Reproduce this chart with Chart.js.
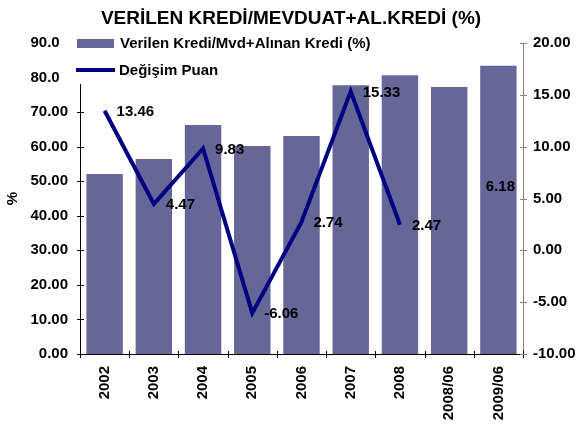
<!DOCTYPE html>
<html><head><meta charset="utf-8">
<script src="https://cdn.jsdelivr.net/npm/chart.js@4/dist/chart.umd.min.js"></script>
<style>html,body{margin:0;padding:0;background:#fff}#wrap{width:577px;height:430px}</style>
</head><body><div id="wrap"><canvas id="c" width="577" height="430"></canvas></div>
<script>
const categories = ['2002','2003','2004','2005','2006','2007','2008','2008/06','2009/06'];
const ratioValues = [52.1, 56.4, 66.3, 60.2, 63.1, 77.8, 80.7, 77.3, 83.4];
const changeValues = [13.46, 4.47, 9.83, -6.06, 2.74, 15.33, 2.47, null, 6.18];
const leftTicks = [0, 10, 20, 30, 40, 50, 60, 70, 80, 90];
const rightTicks = [-10, -5, 0, 5, 10, 15, 20];
const chartTitle = 'VERİLEN KREDİ/MEVDUAT+AL.KREDİ (%)';
const barLabel = 'Verilen Kredi/Mvd+Alınan Kredi (%)';
const lineLabel = 'Değişim Puan';
const leftAxisTitle = '%';

const FONT = '"Liberation Sans", Arial, sans-serif';
const BAR_COLOR = '#666699';
const LINE_COLOR = '#000080';

const overlay = {
  id: 'overlay',
  afterDraw(chart) {
    const ctx = chart.ctx;
    const area = chart.chartArea;
    const yl = chart.scales.y, yr = chart.scales.y1;
    ctx.save();
    // crossing tick marks
    ctx.lineWidth = 1;
    ctx.strokeStyle = '#000';
    ctx.beginPath();
    leftTicks.forEach(v => { const p = Math.round(yl.getPixelForValue(v)) + 0.5; ctx.moveTo(area.left - 3, p); ctx.lineTo(area.left + 4, p); });
    const step = (area.right - area.left) / categories.length;
    for (let i = 0; i <= categories.length; i++) {
      const p = Math.round(area.left + i * step) + 0.5;
      ctx.moveTo(p, area.bottom - 3); ctx.lineTo(p, area.bottom + 4);
    }
    ctx.stroke();
    ctx.strokeStyle = '#808080';
    ctx.beginPath();
    rightTicks.forEach(v => { const p = Math.round(yr.getPixelForValue(v)) + 0.5; ctx.moveTo(area.right - 3, p); ctx.lineTo(area.right + 4, p); });
    ctx.stroke();

    // data labels
    const meta = chart.getDatasetMeta(1);
    ctx.font = 'bold 15px ' + FONT;
    ctx.fillStyle = '#000';
    ctx.textBaseline = 'middle';
    ctx.textAlign = 'left';
    meta.data.forEach((pt, i) => {
      const v = changeValues[i];
      if (v === null || v === undefined) return;
      const txt = v.toFixed(2);
      const w = ctx.measureText(txt).width;
      let x = pt.x + 12;
      if (x + w > area.right - 8) x = area.right - 8 - w;
      ctx.fillText(txt, x, pt.y + 1);
    });

    // legend (overlapping top-left of plot)
    ctx.fillStyle = '#fff';
    ctx.fillRect(60, 30, 321, 54);
    ctx.fillStyle = BAR_COLOR;
    ctx.fillRect(77, 39, 37, 9);
    ctx.strokeStyle = LINE_COLOR;
    ctx.lineWidth = 4;
    ctx.beginPath(); ctx.moveTo(76, 70); ctx.lineTo(115, 70); ctx.stroke();
    ctx.fillStyle = '#000';
    ctx.font = 'bold 15px ' + FONT;
    ctx.fillText(barLabel, 120, 44);
    ctx.fillText(lineLabel, 119, 71);

    // title
    ctx.font = 'bold 19px ' + FONT;
    ctx.textAlign = 'center';
    ctx.textBaseline = 'alphabetic';
    ctx.fillText(chartTitle, 291, 24);
    ctx.restore();
  }
};

new Chart(document.getElementById('c'), {
  data: {
    labels: categories,
    datasets: [
      { type: 'bar', label: barLabel, data: ratioValues, backgroundColor: BAR_COLOR, borderWidth: 0,
        barPercentage: 0.74, categoryPercentage: 1, yAxisID: 'y', order: 2 },
      { type: 'line', label: lineLabel, data: changeValues, borderColor: LINE_COLOR, backgroundColor: LINE_COLOR,
        borderWidth: 4, pointRadius: 0, pointHoverRadius: 0, spanGaps: false, tension: 0, fill: false,
        yAxisID: 'y1', order: 1 }
    ]
  },
  options: {
    responsive: false, animation: false, devicePixelRatio: 1,
    layout: { padding: { top: 43, left: 0, right: 0, bottom: 0 } },
    plugins: { legend: { display: false }, tooltip: { enabled: false }, title: { display: false } },
    scales: {
      x: {
        type: 'category', offset: true,
        grid: { display: false, drawTicks: false },
        border: { display: true, color: '#000', width: 1 },
        ticks: { autoSkip: false, maxRotation: 90, minRotation: 90, padding: 12, color: '#000',
          font: { family: FONT, size: 15, weight: 'bold' } },
        afterFit: s => { s.height = 76; }
      },
      y: {
        position: 'left', min: 0, max: 90,
        grid: { display: false, drawTicks: false },
        border: { display: true, color: '#000', width: 1 },
        ticks: { stepSize: 10, padding: 12, color: '#000', callback: v => Number(v).toFixed(2),
          font: { family: FONT, size: 15, weight: 'bold' } },
        title: { display: true, text: leftAxisTitle, color: '#000', font: { family: FONT, size: 15, weight: 'bold' }, padding: { top: 4, bottom: 0 } },
        afterFit: s => { s.width = 80; }
      },
      y1: {
        position: 'right', min: -10, max: 20,
        grid: { display: false, drawTicks: false },
        border: { display: true, color: '#808080', width: 1 },
        ticks: { stepSize: 5, padding: 10, color: '#000', callback: v => Number(v).toFixed(2),
          font: { family: FONT, size: 15, weight: 'bold' } },
        afterFit: s => { s.width = 54; }
      }
    }
  },
  plugins: [overlay]
});
</script>
</body></html>
